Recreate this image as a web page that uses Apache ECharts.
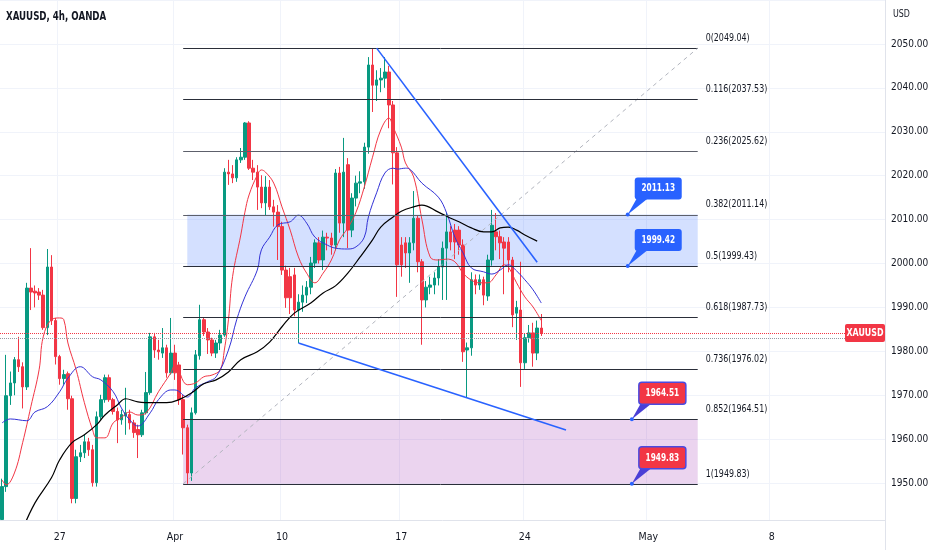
<!DOCTYPE html>
<html lang="en">
<head>
<meta charset="UTF-8">
<title>XAUUSD, 4h, OANDA</title>
<style>
    * { margin: 0; padding: 0; }
    html, body { width: 932px; height: 550px; background: #fff; overflow: hidden; }
    #chart { width: 932px; height: 550px; }
</style>
</head>
<body>
<div id="chart"></div>
<script src="https://cdn.jsdelivr.net/npm/echarts@6/dist/echarts.min.js"></script>
<script>
var FONT = "'DejaVu Sans Condensed', 'Liberation Sans Narrow', sans-serif";
var NARROW = 0.8; // the reference text is much narrower than any installed face

// time axis: 4h bar slots, the ones after the last candle stay empty
var barCount = 215;
var tickBars = [14, 42, 68, 97, 127, 157, 187];
var tickTexts = ['27', 'Apr', '10', '17', '24', 'May', '8'];

// candles
var opens = [
    1941.7, 1949.2, 1969.9, 1972.8, 1978.1, 1976.5, 1971.9, 1994.4, 1993.7, 1993.5,
    1992.8, 1985.4, 1999.2, 1987.0, 1978.8, 1973.8, 1974.9, 1969.2, 1946.5, 1956.0,
    1956.9, 1959.4, 1957.6, 1950.1, 1965.1, 1969.0, 1974.0, 1969.0, 1966.3, 1964.4,
    1965.3, 1965.6, 1963.7, 1962.2, 1961.0, 1966.0, 1970.6, 1983.3, 1980.3, 1979.6,
    1980.8, 1975.1, 1979.6, 1976.9, 1969.0, 1962.6, 1952.3, 1966.0, 1979.0, 1987.2,
    1984.4, 1982.6, 1979.6, 1981.9, 1983.7, 2020.8, 2020.4, 2019.5, 2023.6, 2024.2,
    2032.0, 2021.7, 2020.8, 2017.4, 2013.8, 2017.4, 2012.9, 2011.7, 2008.4, 1998.5,
    1997.0, 1997.4, 1989.4, 1991.2, 1992.8, 1994.6, 2000.1, 2004.7, 2000.8, 2006.0,
    2005.8, 2004.2, 2020.6, 2009.2, 2022.5, 2007.6, 2014.9, 2018.3, 2018.6, 2026.5,
    2045.2, 2040.6, 2041.8, 2042.2, 2043.6, 2036.1, 2025.2, 2004.2, 2004.7, 2002.4,
    2004.7, 2010.3, 2000.4, 1991.7, 1994.6, 1995.1, 1996.7, 1999.2, 2003.5, 2007.2,
    2007.6, 2007.6, 2004.2, 1980.3, 1980.8, 1996.3, 1995.1, 1996.3, 1992.6, 2000.8,
    2007.2, 2006.1, 2004.9, 2004.9, 2000.8, 1988.7, 1989.4, 1977.4, 1983.1, 1984.2,
    1979.6, 1985.3
];
var closes = [
    1949.2, 1969.9, 1972.8, 1978.1, 1976.5, 1971.9, 1994.4, 1993.5, 1993.3, 1992.8,
    1985.4, 1999.2, 1987.0, 1978.8, 1973.8, 1974.7, 1969.2, 1946.5, 1956.0, 1956.9,
    1959.4, 1957.6, 1950.1, 1965.1, 1969.0, 1974.0, 1969.0, 1966.3, 1964.4, 1965.6,
    1966.0, 1963.7, 1961.5, 1961.0, 1966.0, 1970.6, 1983.3, 1980.3, 1979.9, 1980.8,
    1975.1, 1979.6, 1975.1, 1969.0, 1962.6, 1952.3, 1966.0, 1979.2, 1987.2, 1984.4,
    1982.6, 1979.6, 1981.9, 1983.7, 2020.8, 2020.4, 2019.5, 2023.6, 2024.2, 2032.0,
    2021.7, 2020.8, 2017.4, 2013.8, 2017.4, 2012.9, 2011.7, 2008.4, 1998.5, 1992.2,
    1992.2, 1989.4, 1991.2, 1992.8, 1994.6, 2000.1, 2004.7, 2000.8, 2006.0, 2005.8,
    2004.2, 2020.6, 2009.2, 2020.8, 2007.6, 2014.9, 2018.3, 2018.6, 2026.5, 2045.2,
    2040.6, 2041.8, 2042.2, 2043.6, 2036.1, 2025.2, 1999.7, 1999.7, 2002.4, 2004.7,
    2010.3, 2000.4, 1991.7, 1994.6, 1995.1, 1996.7, 1999.2, 2003.5, 2007.2, 2004.9,
    2004.9, 2004.2, 1979.9, 1980.8, 1996.3, 1995.1, 1996.3, 1992.8, 2000.8, 2008.7,
    2006.1, 2004.7, 2003.5, 2000.8, 1988.3, 1990.0, 1977.4, 1983.1, 1984.2, 1979.6,
    1985.3, 1984.2
];
var highs = [
    1951.0, 1979.2, 1975.4, 1978.7, 1983.3, 1977.5, 1995.6, 2003.5, 1995.0, 1994.4,
    1994.0, 2003.3, 2001.9, 1987.6, 1979.2, 1975.8, 1975.4, 1969.9, 1957.6, 1958.7,
    1961.0, 1960.3, 1958.7, 1966.3, 1970.1, 1974.7, 1974.7, 1969.4, 1967.2, 1966.7,
    1971.7, 1966.7, 1964.4, 1963.3, 1966.7, 1975.3, 1984.2, 1984.2, 1982.6, 1985.3,
    1981.5, 1987.6, 1981.5, 1977.6, 1970.1, 1963.3, 1967.2, 1980.3, 1990.6, 1987.6,
    1985.3, 1983.1, 1982.6, 1984.9, 2021.7, 2023.6, 2022.4, 2024.2, 2026.3, 2032.2,
    2032.4, 2023.6, 2022.4, 2020.1, 2019.9, 2019.0, 2014.5, 2013.3, 2009.5, 1999.5,
    1999.0, 1999.0, 1993.0, 1995.0, 1996.0, 2001.5, 2005.5, 2006.0, 2007.5, 2007.0,
    2007.0, 2021.5, 2022.0, 2028.6, 2024.0, 2016.0, 2020.0, 2021.0, 2027.5, 2047.0,
    2049.04, 2044.0, 2044.5, 2047.0, 2045.0, 2037.0, 2026.5, 2006.0, 2006.0, 2006.0,
    2016.5, 2011.0, 2001.0, 1996.0, 1997.0, 1998.0, 2001.0, 2005.0, 2011.5, 2008.5,
    2009.0, 2008.5, 2005.5, 1982.0, 1998.0, 1997.5, 1997.5, 1997.0, 2002.0, 2012.2,
    2011.5, 2007.5, 2006.0, 2006.0, 2001.5, 1991.5, 2000.4, 1984.0, 1986.0, 1986.5,
    1987.0, 1988.5
];
var lows = [
    1940.5, 1948.0, 1967.8, 1970.0, 1975.3, 1967.0, 1971.2, 1989.4, 1990.0, 1991.7,
    1984.9, 1983.7, 1986.0, 1977.0, 1972.4, 1972.4, 1966.7, 1945.4, 1945.4, 1954.8,
    1955.7, 1956.2, 1949.2, 1949.2, 1964.4, 1968.3, 1968.5, 1965.6, 1959.1, 1963.3,
    1961.0, 1962.2, 1960.3, 1955.7, 1960.5, 1965.6, 1970.1, 1978.5, 1978.1, 1978.5,
    1974.0, 1974.7, 1973.5, 1967.8, 1956.5, 1949.83, 1950.5, 1965.6, 1978.1, 1983.5,
    1979.4, 1978.9, 1978.5, 1980.3, 1983.3, 2017.9, 2018.3, 2018.6, 2022.9, 2023.6,
    2021.3, 2019.0, 2012.2, 2012.6, 2011.0, 2012.2, 2008.4, 2000.8, 1997.4, 1989.9,
    1988.5, 1988.0, 1981.9, 1989.0, 1991.0, 1993.0, 1999.0, 2000.0, 1998.5, 2003.0,
    2002.0, 2003.0, 2007.0, 2006.0, 2003.5, 2006.0, 2013.0, 2016.0, 2017.0, 2025.0,
    2034.5, 2037.0, 2039.0, 2040.0, 2030.8, 2018.0, 1992.4, 1997.0, 1999.0, 1995.6,
    2003.0, 1998.0, 1981.5, 1990.0, 1993.0, 1993.0, 1995.0, 1991.7, 1991.7, 2003.0,
    2001.0, 2002.0, 1977.6, 1969.6, 1979.0, 1993.0, 1994.0, 1990.5, 1991.5, 1999.5,
    2003.0, 2001.0, 1993.0, 1998.0, 1985.5, 1982.6, 1971.9, 1976.0, 1982.0, 1976.5,
    1978.0, 1983.5
];

// moving averages as [bar, price]
var maFast = [
    [0, 1950.7], [1, 1949.6], [3, 1952.3], [5, 1959.2], [7, 1967.4], [9, 1975.8], [10, 1983.3],
    [12, 1987.2], [14, 1987.6], [15, 1987.2], [16, 1981.9], [18, 1975.8], [20, 1968.3],
    [22, 1962.1], [23, 1960.3], [25, 1960.3], [27, 1963.7], [29, 1964.9], [31, 1966.2],
    [33, 1965.5], [35, 1966.0], [38, 1970.8], [41, 1975.1], [42, 1976.9], [45, 1972.4],
    [47, 1972.8], [49, 1974.2], [51, 1974.6], [53, 1975.8], [54, 1980.3], [55, 1987.2],
    [56, 1997.0], [58, 2006.5], [59, 2011.7], [60, 2015.6], [62, 2020.1], [63, 2021.3],
    [64, 2020.8], [66, 2018.3], [68, 2012.9], [70, 2007.6], [72, 2001.5], [74, 1997.8],
    [76, 1995.6], [78, 1997.8], [80, 2000.8], [82, 2005.4], [84, 2008.1], [86, 2011.7],
    [88, 2017.4], [90, 2024.2], [92, 2030.4], [94, 2033.1], [95, 2031.1], [97, 2026.5],
    [98, 2022.9], [100, 2019.7], [102, 2010.0], [104, 2001.5], [106, 2000.8], [108, 2001.0],
    [110, 2000.4], [112, 1997.8], [114, 1996.2], [116, 1995.6], [118, 1995.6], [120, 1997.4],
    [122, 1999.7], [123, 1999.2], [125, 1995.6], [127, 1992.4], [129, 1990.1], [131, 1987.0]
];
var maMid = [
    [0, 1963.7], [2, 1964.6], [6, 1964.2], [8, 1966.2], [11, 1967.4], [14, 1970.8], [16, 1973.9],
    [19, 1976.5], [22, 1974.2], [24, 1973.5], [27, 1970.8], [29, 1967.1], [31, 1964.4],
    [33, 1963.0], [36, 1966.0], [38, 1969.0], [41, 1971.2], [42, 1971.2], [45, 1969.6],
    [47, 1971.7], [50, 1973.1], [52, 1974.2], [55, 1980.3], [57, 1987.2], [59, 1992.4],
    [62, 1998.5], [63, 2003.1], [65, 2006.0], [67, 2008.8], [70, 2009.5], [72, 2011.0],
    [74, 2009.2], [76, 2006.0], [79, 2004.2], [81, 2003.5], [84, 2003.3], [86, 2003.8],
    [88, 2006.0], [89, 2010.6], [91, 2016.1], [93, 2020.6], [95, 2021.7], [96, 2021.5],
    [98, 2021.7], [99, 2021.5], [102, 2018.3], [106, 2015.1], [108, 2011.5], [110, 2006.0],
    [112, 2002.4], [114, 1999.0], [117, 1998.1], [119, 1997.6], [121, 1998.5], [123, 1999.7],
    [125, 1998.3], [127, 1996.3], [129, 1994.0], [131, 1991.0]
];
var maSlow = [
    [5, 1939.5], [8, 1945.5], [12, 1951.2], [14, 1955.3], [17, 1959.2], [20, 1961.0],
    [23, 1963.3], [25, 1965.5], [28, 1967.8], [30, 1969.2], [33, 1968.5], [37, 1968.3],
    [40, 1968.3], [43, 1969.0], [46, 1970.5], [49, 1972.6], [52, 1973.5], [55, 1975.3],
    [58, 1978.1], [62, 1979.9], [65, 1982.1], [68, 1985.6], [71, 1988.7], [75, 1991.0],
    [78, 1993.3], [81, 1994.9], [84, 1997.8], [87, 2001.5], [90, 2005.4], [92, 2008.3],
    [95, 2010.6], [97, 2011.9], [100, 2012.9], [102, 2013.3], [106, 2011.7], [109, 2010.3],
    [111, 2009.5], [114, 2008.1], [117, 2007.2], [119, 2007.2], [121, 2008.1], [123, 2008.3],
    [125, 2007.6], [127, 2006.5], [130, 2005.1]
];

// fibonacci retracement
var fibRatios = ['0', '0.116', '0.236', '0.382', '0.5', '0.618', '0.736', '0.852', '1', '1.118'];
var fibPrices = [2049.04, 2037.53, 2025.62, 2011.14, 1999.43, 1987.73, 1976.02, 1964.51, 1949.83, 1938.12];
var fibStartBar = 44, fibEndBar = 169;

// shaded zones
var zoneTops = [2011.14, 1964.51];
var zoneBottoms = [1999.43, 1949.83];
var zoneStartBars = [45, 44];

// trend lines [bar1, price1, bar2, price2]
var trendLines = [
    [91, 2049.04, 130, 2000.3],
    [72, 1981.9, 137, 1962.1]
];

// price notes
var noteBars = [152, 152, 153, 153];
var notePrices = [2011.13, 1999.42, 1964.51, 1949.83];

var symbolName = 'XAUUSD';
var lastPrice = closes[closes.length - 1];
var bidPrice = 1983.0;

var cats = [];
for (var i = 0; i < barCount; i++) cats.push('b' + i);

function tickText(idx) {
    var k = tickBars.indexOf(idx);
    return k < 0 ? '' : tickTexts[k];
}

var candles = [];
for (var i = 0; i < opens.length; i++) {
    candles.push([opens[i], closes[i], lows[i], highs[i]]);
}

var chart = echarts.init(document.getElementById('chart'), null, { renderer: 'canvas' });

var option = {
    animation: false,
    backgroundColor: '#fff',
    textStyle: { fontFamily: FONT },
    grid: { left: 0, right: 47, top: 0, bottom: 23 },
    xAxis: [
        {
            type: 'category', data: cats, boundaryGap: true, position: 'bottom',
            axisLine: { show: false }, axisTick: { show: false }, axisLabel: { show: false },
            splitLine: {
                show: true,
                interval: function (idx) { return tickBars.indexOf(idx) >= 0; },
                lineStyle: { color: '#f0f3fa', width: 1 }
            }
        },
        {
            type: 'category', data: cats, boundaryGap: true, position: 'bottom', z: 60,
            axisLine: { show: false }, axisTick: { show: false }, splitLine: { show: false },
            axisLabel: {
                interval: function (idx) { return tickBars.indexOf(idx) >= 0; },
                formatter: function (v, idx) { return tickText(idx); },
                margin: 5, color: '#131722', fontSize: 10.5, fontFamily: FONT
            }
        }
    ],
    yAxis: {
        type: 'value', position: 'right', min: 1940, max: 2060, interval: 10, scale: true,
        axisLine: { show: true, lineStyle: { color: '#e0e3eb' } },
        axisTick: { show: false },
        splitLine: { lineStyle: { color: '#f0f3fa' } },
        axisLabel: {
            showMinLabel: false, showMaxLabel: false, margin: 6,
            color: '#131722', fontSize: 10, fontFamily: FONT,
            formatter: function (v) { return v.toFixed(2); }
        }
    },
    graphic: [
        { type: 'rect', z: 50, shape: { x: 0, y: 520, width: 885, height: 30 }, style: { fill: '#fff' } },
        { type: 'line', z: 51, shape: { x1: 0, y1: 520.5, x2: 885, y2: 520.5 }, style: { stroke: '#e0e3eb', lineWidth: 1 } },
        { type: 'line', z: 51, shape: { x1: 885.5, y1: 0, x2: 885.5, y2: 550 }, style: { stroke: '#e0e3eb', lineWidth: 1 } },
        {
            type: 'text', z: 52, x: 6, y: 10, scaleX: 0.74,
            style: { text: 'XAUUSD, 4h, OANDA', fill: '#131722', font: 'bold 13px ' + FONT }
        },
        {
            type: 'text', z: 52, x: 893, y: 9, scaleX: NARROW,
            style: { text: 'USD', fill: '#131722', font: '11px ' + FONT }
        }
    ],
    series: [
        {
            name: 'zones', type: 'custom', z: 1, silent: true,
            data: zoneTops.map(function (t, i) { return [zoneStartBars[i], t]; }),
            encode: { x: 0, y: 1 },
            renderItem: function (params, api) {
                var i = params.dataIndex;
                var a = api.coord([zoneStartBars[i], zoneTops[i]]);
                var b = api.coord([fibEndBar, zoneBottoms[i]]);
                return {
                    type: 'rect',
                    shape: { x: a[0], y: a[1], width: b[0] - a[0], height: b[1] - a[1] },
                    style: { fill: i === 0 ? 'rgba(41,98,255,0.2)' : 'rgba(156,39,176,0.2)' }
                };
            }
        },
        {
            name: 'XAUUSD', type: 'candlestick', z: 2, barWidth: 3,
            data: candles,
            itemStyle: {
                color: '#089981', color0: '#f23645',
                borderColor: '#089981', borderColor0: '#f23645', borderWidth: 1
            },
            markLine: {
                silent: true, symbol: ['none', 'none'], animation: false,
                label: { show: false },
                data: [
                    { yAxis: lastPrice, lineStyle: { color: '#f23645', type: 'dotted', width: 1 } },
                    { yAxis: bidPrice, lineStyle: { color: '#9598a1', type: 'dotted', width: 1 } }
                ]
            }
        },
        {
            name: 'MA fast', type: 'line', z: 3, data: maFast, smooth: 0.4,
            showSymbol: false, symbol: 'none', lineStyle: { color: '#f23645', width: 1 }
        },
        {
            name: 'MA mid', type: 'line', z: 3, data: maMid, smooth: 0.4,
            showSymbol: false, symbol: 'none', lineStyle: { color: '#3333d6', width: 1 }
        },
        {
            name: 'MA slow', type: 'line', z: 3, data: maSlow, smooth: 0.4,
            showSymbol: false, symbol: 'none', lineStyle: { color: '#000000', width: 1.2 }
        },
        {
            name: 'fib', type: 'custom', z: 4, silent: true,
            data: fibPrices.map(function (p) { return [fibStartBar, p]; }),
            encode: { x: 0, y: 1 },
            renderItem: function (params, api) {
                var i = params.dataIndex;
                var p1 = api.coord([fibStartBar, fibPrices[i]]);
                var p2 = api.coord([fibEndBar, fibPrices[i]]);
                var yy = Math.round(p1[1]) + 0.5;
                var children = [
                    {
                        type: 'line',
                        shape: { x1: p1[0], y1: yy, x2: p2[0], y2: yy },
                        style: { stroke: (i === 2 || i === 3) ? '#5d606b' : '#2a2e39', lineWidth: 1 }
                    },
                    {
                        type: 'text', x: p2[0] + 8, y: p2[1] - 10, scaleX: NARROW,
                        style: {
                            text: fibRatios[i] + '(' + fibPrices[i].toFixed(2) + ')',
                            fill: '#131722', font: '11px ' + FONT, verticalAlign: 'middle', align: 'left'
                        }
                    }
                ];
                if (i === 0) {
                    var a = api.coord([fibStartBar, fibPrices[fibPrices.length - 2]]);
                    children.push({
                        type: 'line',
                        shape: { x1: a[0], y1: a[1], x2: p2[0], y2: p2[1] },
                        style: { stroke: '#b2b5be', lineWidth: 1, lineDash: [4, 4] }
                    });
                }
                return { type: 'group', children: children };
            }
        },
        {
            name: 'trend', type: 'custom', z: 4, silent: true,
            data: trendLines.map(function (t) { return [t[0], t[1]]; }),
            encode: { x: 0, y: 1 },
            renderItem: function (params, api) {
                var t = trendLines[params.dataIndex];
                var a = api.coord([t[0], t[1]]);
                var b = api.coord([t[2], t[3]]);
                return {
                    type: 'line',
                    shape: { x1: a[0], y1: a[1], x2: b[0], y2: b[1] },
                    style: { stroke: '#2962ff', lineWidth: 1.6 }
                };
            }
        },
        {
            name: 'notes', type: 'custom', z: 6, silent: true,
            data: notePrices.map(function (p, i) { return [noteBars[i], p]; }),
            encode: { x: 0, y: 1 },
            renderItem: function (params, api) {
                var i = params.dataIndex;
                var p = api.coord([noteBars[i], notePrices[i]]);
                var blue = i < 2;
                var bx = p[0] + 7, by = p[1] - 37, bw = 47, bh = 22;
                return {
                    type: 'group',
                    children: [
                        {
                            type: 'polygon',
                            shape: { points: [[p[0], p[1]], [bx + 2, by + bh - 1], [bx + 13, by + bh - 1]] },
                            style: { fill: blue ? '#2962ff' : '#4a3fd6' }
                        },
                        {
                            type: 'rect',
                            shape: { x: bx, y: by, width: bw, height: bh, r: 3 },
                            style: blue ? { fill: '#2962ff' } : { fill: '#f23645', stroke: '#4a4ae0', lineWidth: 1.5 }
                        },
                        { type: 'circle', shape: { cx: p[0], cy: p[1], r: 2 }, style: { fill: '#2962ff' } },
                        {
                            type: 'text', x: bx + bw / 2, y: by + bh / 2, scaleX: 0.78,
                            style: {
                                text: notePrices[i].toFixed(2), fill: '#fff',
                                font: 'bold 10.5px ' + FONT, align: 'center', verticalAlign: 'middle'
                            }
                        }
                    ]
                };
            }
        },
        {
            name: 'last', type: 'custom', z: 7, silent: true,
            data: [[closes.length - 1, lastPrice]],
            encode: { x: 0, y: 1 },
            renderItem: function (params, api) {
                var p = api.coord([closes.length - 1, lastPrice]);
                var right = params.coordSys.x + params.coordSys.width;
                var w = 40, h = 18;
                return {
                    type: 'group',
                    children: [
                        {
                            type: 'rect',
                            shape: { x: right - w, y: p[1] - h / 2, width: w, height: h, r: 2 },
                            style: { fill: '#f23645' }
                        },
                        {
                            type: 'text', x: right - w / 2, y: p[1], scaleX: NARROW,
                            style: {
                                text: symbolName, fill: '#fff', font: 'bold 11px ' + FONT,
                                align: 'center', verticalAlign: 'middle'
                            }
                        }
                    ]
                };
            }
        }
    ]
};

chart.setOption(option);
</script>
</body>
</html>
